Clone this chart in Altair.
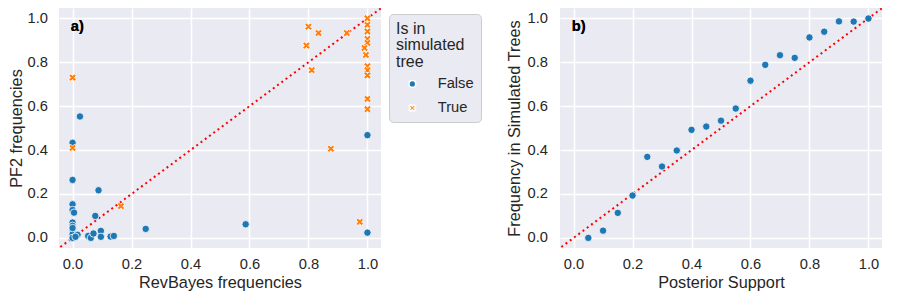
import altair as alt
import pandas as pd

# ---- data ----
rev_false = [0.025, 0.0, 0.0, 0.088, 0.0, 0.0, 0.005, 0.077, 0.0, 0.0, 0.0, 0.0, 0.0,
             0.017, 0.053, 0.062, 0.071, 0.096, 0.096, 0.129, 0.14, 0.248, 0.587, 1.0, 1.0,
             0.0, 0.01]
pf2_false = [0.553, 0.433, 0.264, 0.217, 0.153, 0.127, 0.115, 0.10, 0.07, 0.055, 0.035, 0.017, 0.0,
             0.014, 0.009, 0.0, 0.02, 0.032, 0.005, 0.006, 0.009, 0.041, 0.062, 0.468, 0.024,
             0.045, 0.005]
rev_true = [0.0, 0.0, 0.164, 0.8, 0.834, 0.793, 0.93, 0.811, 0.876, 0.974,
            1.0, 1.0, 1.0, 1.0, 1.0, 0.99, 0.995, 1.0, 1.0, 1.0, 1.0, 1.0]
pf2_true = [0.73, 0.41, 0.145, 0.962, 0.933, 0.876, 0.933, 0.764, 0.406, 0.073,
            1.0, 0.97, 0.94, 0.906, 0.888, 0.865, 0.833, 0.782, 0.764, 0.74, 0.633, 0.586]
support = [0.05, 0.10, 0.15, 0.20, 0.25, 0.30, 0.35, 0.40, 0.45, 0.50,
           0.55, 0.60, 0.65, 0.70, 0.75, 0.80, 0.85, 0.90, 0.95, 1.00]
sim_freq = [0.0, 0.033, 0.114, 0.193, 0.369, 0.325, 0.398, 0.492, 0.507, 0.534,
            0.589, 0.716, 0.788, 0.832, 0.82, 0.913, 0.939, 0.986, 0.985, 0.999]
diag = [-0.2, 1.2]
ticks = [0.0, 0.2, 0.4, 0.6, 0.8, 1.0]
groups = ["False", "True"]

df_a = pd.DataFrame({
    "RevBayes": rev_false + rev_true,
    "PF2": pf2_false + pf2_true,
    "sim": ["False"] * len(rev_false) + ["True"] * len(rev_true),
})
df_b = pd.DataFrame({"support": support, "freq": sim_freq})
df_d = pd.DataFrame({"v": diag})

XDOM = [-0.046, 1.046]
YDOM = [-0.046, 1.047]
FONT = "Liberation Sans"
TXT = "#262626"
BLUE = "#1f77b4"
ORANGE = "#ff7f0e"
XPATH = "M-1,-0.5L-0.5,-1L0,-0.5L0.5,-1L1,-0.5L0.5,0L1,0.5L0.5,1L0,0.5L-0.5,1L-1,0.5L-0.5,0Z"


def ax(title, label_pad, title_pad):
    return alt.Axis(title=title, values=ticks, format=".1f", grid=True, gridColor="white",
                    gridWidth=1.5, domain=False, ticks=False, labelFontSize=14.7,
                    titleFontSize=16.3, labelColor=TXT, titleColor=TXT, labelFont=FONT,
                    titleFont=FONT, titleFontWeight="normal", labelPadding=label_pad,
                    titlePadding=title_pad)


def panel(xaxis, yaxis, points, label, lx, ly):
    xs = alt.Scale(domain=XDOM, nice=False, zero=False)
    ys = alt.Scale(domain=YDOM, nice=False, zero=False)
    line = alt.Chart(df_d).mark_line(color="red", strokeDash=[2, 3.3], strokeWidth=2,
                                      clip=True).encode(
        x=alt.X("v:Q", scale=xs, axis=xaxis),
        y=alt.Y("v:Q", scale=ys, axis=yaxis),
    )
    txt = alt.Chart(df_d).mark_text(text=label, fontWeight="bold", fontSize=14.7, font=FONT,
                                     align="left", baseline="middle", color="black").encode(
        x=alt.datum(lx, scale=xs), y=alt.datum(ly, scale=ys)
    )
    return alt.layer(line, points, txt).properties(width=322, height=240)


leg = alt.Legend(title=["Is in", "simulated", "tree"], orient="none", legendX=330, legendY=6,
                 fillColor="#EAEAF2", strokeColor="#CCCCCC", cornerRadius=4, padding=7,
                 titleFontSize=16, labelFontSize=14.7, titleFont=FONT, labelFont=FONT,
                 titleColor=TXT, labelColor=TXT, titleFontWeight="normal", symbolSize=45,
                 rowPadding=8, titlePadding=7, labelOffset=18, symbolOffset=9,
                 titleLineHeight=16.3)

xa_a = ax("RevBayes frequencies", 8, 4)
ya_a = ax("PF2 frequencies", 11.5, 3)
xa_b = ax("Posterior Support", 8, 4)
ya_b = ax("Frequency in Simulated Trees", 12.5, 5)

pts_a = alt.Chart(df_a).mark_point(filled=True, size=55, stroke="white", strokeWidth=0.8,
                                   opacity=1).encode(
    x=alt.X("RevBayes:Q", scale=alt.Scale(domain=XDOM, nice=False, zero=False), axis=xa_a),
    y=alt.Y("PF2:Q", scale=alt.Scale(domain=YDOM, nice=False, zero=False), axis=ya_a),
    color=alt.Color("sim:N", scale=alt.Scale(domain=groups, range=[BLUE, ORANGE]), legend=leg),
    shape=alt.Shape("sim:N", scale=alt.Scale(domain=groups, range=["circle", XPATH]), legend=leg),
)

pts_b = alt.Chart(df_b).mark_point(filled=True, size=55, color=BLUE, stroke="white",
                                   strokeWidth=0.8, opacity=1).encode(
    x=alt.X("support:Q", scale=alt.Scale(domain=XDOM, nice=False, zero=False), axis=xa_b),
    y=alt.Y("freq:Q", scale=alt.Scale(domain=YDOM, nice=False, zero=False), axis=ya_b),
)

left = panel(xa_a, ya_a, pts_a, "a)", -0.006, 0.961)
right = panel(xa_b, ya_b, pts_b, "b)", -0.006, 0.959)

chart = alt.hconcat(left, right, spacing=24).resolve_legend(
    color="independent", shape="independent"
).properties(
    padding=0, background="white"
).configure_view(
    fill="#EAEAF2", strokeWidth=0
)

chart.save("out.html", embed_options={"renderer": "svg", "actions": False})
